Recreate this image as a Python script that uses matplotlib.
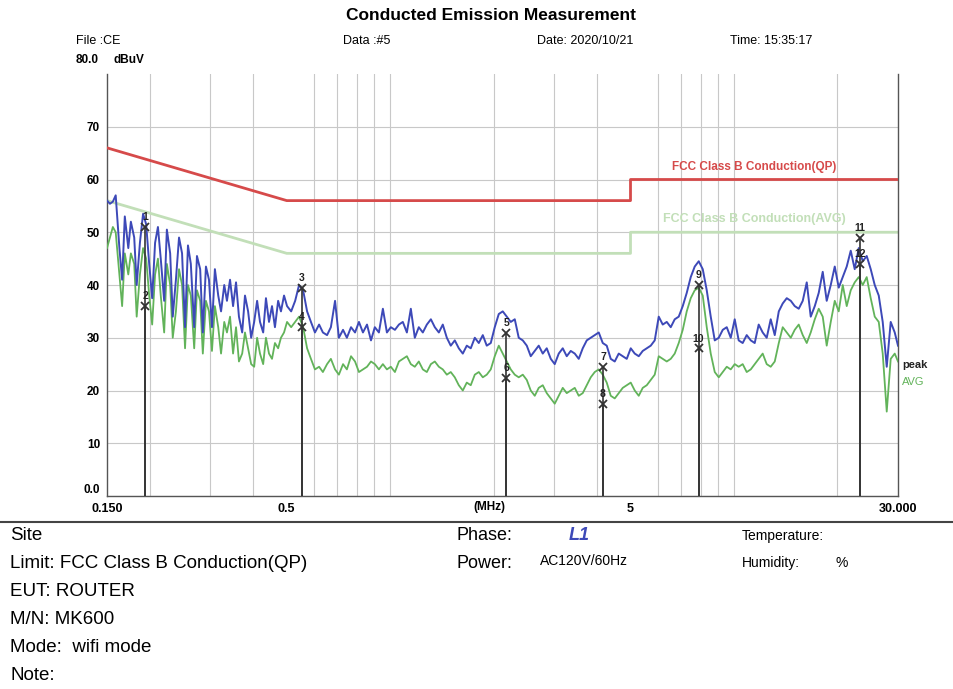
import numpy as np
import matplotlib.pyplot as plt
from matplotlib.ticker import FixedLocator, NullFormatter

plt.rcParams['font.family'] = ['Liberation Sans', 'DejaVu Sans']

# Trace frequencies (MHz) and levels (dBuV)
freq_mhz = [
    0.150, 0.153, 0.156, 0.159, 0.163, 0.166, 0.169, 0.173, 0.176, 0.180,
    0.183, 0.187, 0.191, 0.195, 0.199, 0.203, 0.207, 0.211, 0.215, 0.220,
    0.224, 0.229, 0.233, 0.238, 0.243, 0.248, 0.253, 0.258, 0.263, 0.269,
    0.274, 0.280, 0.285, 0.291, 0.297, 0.303, 0.309, 0.316, 0.322, 0.329,
    0.335, 0.342, 0.349, 0.356, 0.363, 0.371, 0.378, 0.386, 0.394, 0.402,
    0.410, 0.418, 0.427, 0.435, 0.444, 0.453, 0.462, 0.472, 0.481, 0.491,
    0.501, 0.515, 0.529, 0.543, 0.558, 0.573, 0.588, 0.604, 0.621, 0.637,
    0.655, 0.672, 0.691, 0.709, 0.729, 0.748, 0.769, 0.790, 0.811, 0.833,
    0.856, 0.879, 0.902, 0.927, 0.952, 0.978, 1.004, 1.032, 1.060, 1.088,
    1.118, 1.148, 1.179, 1.211, 1.244, 1.278, 1.313, 1.348, 1.385, 1.422,
    1.461, 1.500, 1.541, 1.583, 1.626, 1.670, 1.715, 1.762, 1.810, 1.859,
    1.909, 1.961, 2.014, 2.069, 2.125, 2.183, 2.242, 2.303, 2.365, 2.430,
    2.496, 2.563, 2.633, 2.704, 2.778, 2.853, 2.931, 3.010, 3.092, 3.176,
    3.262, 3.351, 3.442, 3.535, 3.631, 3.730, 3.831, 3.935, 4.042, 4.152,
    4.264, 4.380, 4.499, 4.621, 4.747, 4.876, 5.008, 5.144, 5.284, 5.427,
    5.575, 5.726, 5.881, 6.041, 6.205, 6.374, 6.547, 6.724, 6.907, 7.095,
    7.287, 7.485, 7.688, 7.897, 8.112, 8.332, 8.558, 8.791, 9.030, 9.275,
    9.527, 9.786, 10.05, 10.32, 10.60, 10.89, 11.19, 11.49, 11.80, 12.12,
    12.45, 12.79, 13.14, 13.50, 13.86, 14.24, 14.63, 15.02, 15.43, 15.85,
    16.28, 16.72, 17.18, 17.64, 18.12, 18.61, 19.12, 19.64, 20.17, 20.72,
    21.28, 21.86, 22.45, 23.06, 23.69, 24.33, 24.99, 25.67, 26.37, 27.08,
    27.82, 28.57, 29.35, 30.0,
]
peak_dbuv = [
    56.0, 55.4, 55.8, 57.0, 47.0, 41.0, 53.0, 47.0, 52.0, 49.0,
    40.0, 48.0, 53.5, 51.5, 44.0, 37.5, 48.0, 51.0, 45.0, 37.0,
    50.5, 46.0, 34.0, 41.0, 49.0, 46.0, 32.0, 47.5, 44.0, 32.0,
    45.5, 43.0, 31.0, 43.5, 41.0, 32.0, 43.0, 38.0, 35.0, 40.0,
    37.0, 41.0, 36.0, 40.5, 34.0, 31.0, 38.0, 35.0, 30.0, 33.0,
    37.0, 33.0, 31.0, 37.5, 33.0, 36.0, 32.0, 37.0, 35.0, 38.0,
    36.0, 35.0, 37.0, 40.0, 39.0, 35.0, 33.0, 31.0, 32.5, 31.0,
    30.5, 32.0, 37.0, 30.0, 31.5, 30.0, 32.0, 31.0, 33.0, 31.0,
    32.5, 29.5, 32.0, 31.0, 35.5, 31.0, 32.0, 31.5, 32.5, 33.0,
    31.0, 35.5, 30.0, 32.0, 31.0, 32.5, 33.5, 32.0, 31.0, 32.5,
    30.0, 28.5, 29.5, 28.0, 27.0, 28.5, 28.0, 30.0, 29.0, 30.5,
    28.5, 29.0, 32.0, 34.5, 35.0, 34.0, 33.0, 33.5, 30.0, 29.5,
    28.5, 26.5, 27.5, 28.5, 27.0, 28.0, 26.0, 25.0, 27.0, 28.0,
    26.5, 27.5, 27.0, 26.0, 28.0, 29.5, 30.0, 30.5, 31.0, 29.0,
    28.5, 26.0, 25.5, 27.0, 26.5, 26.0, 28.0, 27.0, 26.5, 27.5,
    28.0, 28.5, 29.5, 34.0, 32.5, 33.0, 32.0, 33.5, 34.0, 36.0,
    38.5, 41.5, 43.5, 44.5, 43.0, 39.0, 34.0, 29.5, 30.0, 31.5,
    32.0, 30.0, 33.5, 29.5, 29.0, 30.5, 29.5, 29.0, 32.5, 31.0,
    30.0, 33.5, 30.5, 35.0, 36.5, 37.5, 37.0, 36.0, 35.5, 37.0,
    40.5, 34.0, 36.0, 38.5, 42.5, 37.0, 40.0, 43.5, 39.5, 41.5,
    43.5, 46.5, 43.0, 47.0, 44.5, 45.5, 43.0, 40.0, 38.0, 33.0,
    24.5, 33.0, 31.0, 28.5,
]
avg_dbuv = [
    47.0, 49.0, 51.0, 50.0, 42.0, 36.0, 46.0, 42.0, 46.0, 44.0,
    34.0, 42.0, 47.0, 45.0, 38.0, 32.5, 42.0, 45.0, 38.0, 31.0,
    44.0, 40.0, 30.0, 35.0, 43.0, 40.0, 28.0, 40.0, 38.0, 28.0,
    39.0, 37.0, 27.0, 37.0, 35.0, 27.5, 36.0, 32.0, 27.0, 33.0,
    31.0, 34.0, 27.0, 32.0, 25.5, 27.0, 31.0, 28.0, 25.0, 24.5,
    30.0, 27.0, 25.0, 30.0, 27.0, 26.0, 29.0, 28.0, 30.0, 31.0,
    33.0, 32.0, 33.0, 34.0, 32.0, 28.0, 26.0, 24.0, 24.5, 23.5,
    25.0, 26.0, 24.0, 23.0, 25.0, 24.0, 26.5, 25.5, 23.5, 24.0,
    24.5, 25.5, 25.0, 24.0, 25.0, 24.0, 24.5, 23.5, 25.5, 26.0,
    26.5, 25.0, 24.5, 25.5, 24.0, 23.5, 25.0, 25.5, 24.5, 24.0,
    23.0, 23.5, 22.5, 21.0, 20.0, 21.5, 21.0, 23.0, 23.5, 22.5,
    23.0, 24.0, 26.5, 28.5, 27.0, 25.5, 24.0, 23.0, 22.5, 23.0,
    22.0, 20.0, 19.0, 20.5, 21.0, 19.5, 18.5, 17.5, 19.0, 20.5,
    19.5, 20.0, 20.5, 19.0, 19.5, 21.0, 22.5, 23.5, 24.0, 23.0,
    21.5, 19.0, 18.5, 19.5, 20.5, 21.0, 21.5, 20.0, 19.0, 20.5,
    21.0, 22.0, 23.0, 26.5, 26.0, 25.5, 26.0, 27.0, 29.0, 31.5,
    35.0, 37.5, 39.0, 39.5, 38.0, 32.0, 27.0, 23.5, 22.5, 23.5,
    24.5, 24.0, 25.0, 24.5, 25.0, 23.5, 24.0, 25.0, 26.0, 27.0,
    25.0, 24.5, 25.5, 29.0, 32.0, 31.0, 30.0, 31.5, 32.5, 30.5,
    29.0, 31.0, 33.5, 35.5, 34.0, 28.5, 33.0, 37.0, 35.0, 40.0,
    36.0, 39.0, 40.5, 41.5, 40.0, 41.5, 37.5, 34.0, 33.0, 27.0,
    16.0, 26.0, 27.0, 25.5,
]

# FCC Class B conducted limits
limit_freq = [0.15, 0.5, 5.0, 5.0, 30.0]
limit_qp = [66.0, 56.0, 56.0, 60.0, 60.0]
limit_avg = [56.0, 46.0, 46.0, 50.0, 50.0]

# Marker table
marker_no = [1, 2, 3, 4, 5, 6, 7, 8, 9, 10, 11, 12]
marker_freq = [0.194, 0.194, 0.552, 0.552, 2.174, 2.174, 4.16, 4.16, 7.89, 7.89, 23.3, 23.3]
marker_level = [51.0, 36.0, 39.5, 32.0, 30.9, 22.4, 24.5, 17.5, 40.0, 28.0, 49.0, 44.0]

blue = '#3d49b8'
green = '#62b35a'
red = '#d64a4a'
lgreen = '#c2dfb8'

fig = plt.figure(figsize=(9.54, 6.89), dpi=100)
ax = fig.add_axes([107 / 954, 1 - 496 / 689, 791 / 954, 422 / 689])

ax.set_xscale('log')
ax.set_xlim(0.15, 30)
ax.set_ylim(0, 80)

# grid
ax.xaxis.set_minor_locator(FixedLocator([0.2, 0.3, 0.4, 0.5, 0.6, 0.7, 0.8, 0.9, 1,
                                         2, 3, 4, 5, 6, 7, 8, 9, 10, 20]))
ax.xaxis.set_minor_formatter(NullFormatter())
ax.grid(True, which='minor', axis='x', color='#c8c8c8', lw=0.8)
ax.set_yticks([0, 10, 20, 30, 40, 50, 60, 70])
ax.set_yticklabels(['0.0', '10', '20', '30', '40', '50', '60', '70'])
ax.grid(True, which='major', axis='y', color='#c8c8c8', lw=0.8)
ax.set_xticks([0.15, 0.5, 5, 30])
ax.set_xticklabels(['0.150', '0.5', '5', '30.000'])
ax.tick_params(which='both', length=0, labelsize=8.5, pad=5)
ax.tick_params(axis='x', labelsize=9)
for lab in ax.get_xticklabels() + ax.get_yticklabels():
    lab.set_fontweight('bold')
ax.get_yticklabels()[0].set_va('bottom')
for s in ['left', 'right', 'bottom']:
    ax.spines[s].set_color('#555555')
    ax.spines[s].set_linewidth(1.0)
ax.spines['top'].set_visible(False)

# limits
ax.plot(limit_freq, limit_qp, color=red, lw=2.0, zorder=3)
ax.plot(limit_freq, limit_avg, color=lgreen, lw=2.0, zorder=2)
ax.text(6.6, 61.3, 'FCC Class B Conduction(QP)', color=red, fontsize=8.5,
        fontweight='bold', va='bottom')
ax.text(6.2, 51.3, 'FCC Class B Conduction(AVG)', color=lgreen, fontsize=9,
        fontweight='bold', va='bottom')

# traces
ax.plot(freq_mhz, avg_dbuv, color=green, lw=1.3, zorder=4)
ax.plot(freq_mhz, peak_dbuv, color=blue, lw=1.4, zorder=5)

# markers
ax.vlines(marker_freq, 0, marker_level, color='#333333', lw=1.2, zorder=6)
ax.plot(marker_freq, marker_level, 'x', color='#333333', ms=5.5, mew=1.3, zorder=7)
for n, f, v in zip(marker_no, marker_freq, marker_level):
    ax.text(f, v + 0.9, str(n), fontsize=7.5, fontweight='bold',
            ha='center', va='bottom', color='#222222', zorder=8)

ax.text(1.005, 0.31, 'peak', transform=ax.transAxes, fontsize=8,
        fontweight='bold', color='#222222', va='center')
ax.text(1.005, 0.27, 'AVG', transform=ax.transAxes, fontsize=8,
        color=green, va='center')

# header
def ftext(x, y, s, **kw):
    fig.text(x / 954, 1 - y / 689, s, va='center', **kw)

ftext(491, 15, 'Conducted Emission Measurement', fontsize=12.5, fontweight='bold', ha='center')
ftext(76, 41, 'File :CE', fontsize=9)
ftext(343, 41, 'Data :#5', fontsize=9)
ftext(537, 41, 'Date: 2020/10/21', fontsize=9)
ftext(730, 41, 'Time: 15:35:17', fontsize=9)
ftext(76, 60, '80.0', fontsize=8.5, fontweight='bold')
ftext(114, 60, 'dBuV', fontsize=8.5, fontweight='bold')
ftext(489, 507, '(MHz)', fontsize=8.5, fontweight='bold', ha='center')

# separator
fig.add_artist(plt.Line2D([0, 1], [1 - 522 / 689, 1 - 522 / 689],
                          color='#444444', lw=1.5))

# info block
ftext(10, 536, 'Site', fontsize=13.5)
ftext(10, 563, 'Limit: FCC Class B Conduction(QP)', fontsize=13.5)
ftext(10, 591, 'EUT: ROUTER', fontsize=13.5)
ftext(10, 620, 'M/N: MK600', fontsize=13.5)
ftext(10, 647, 'Mode:  wifi mode', fontsize=13.5)
ftext(10, 675, 'Note:', fontsize=13.5)
ftext(457, 536, 'Phase:', fontsize=13)
ftext(569, 536, 'L1', fontsize=13, fontstyle='italic', fontweight='bold', color=blue)
ftext(457, 563, 'Power:', fontsize=13)
ftext(540, 561, 'AC120V/60Hz', fontsize=10)
ftext(742, 536, 'Temperature:', fontsize=10)
ftext(742, 563, 'Humidity:', fontsize=10)
ftext(836, 563, '%', fontsize=10)

fig.savefig('out.png', dpi=100)
